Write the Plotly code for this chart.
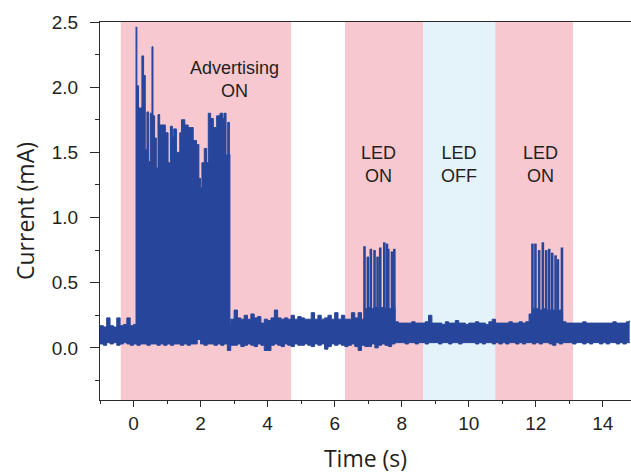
import numpy as np
import plotly.graph_objects as go

# ---- measurement data -------------------------------------------------------
# Baseline current band, sampled every 0.1 s from -1.0 s to 14.8 s:
# upper and lower edge of the noisy trace (mA).
base_t = np.round(np.arange(-1.0, 14.85, 0.1), 2)
base_hi = [
    0.17, 0.16, 0.23, 0.17, 0.16, 0.23, 0.17, 0.18, 0.23, 0.17,   # -1.0 .. -0.1
    0.18, 0.18, 0.18, 0.18, 0.18, 0.18, 0.18, 0.18, 0.18, 0.18,   # 0.0 .. 0.9
    0.18, 0.18, 0.18, 0.18, 0.18, 0.18, 0.18, 0.18, 0.18, 0.18,   # 1.0 .. 1.9
    0.18, 0.18, 0.18, 0.18, 0.18, 0.18, 0.18, 0.18, 0.18, 0.22,   # 2.0 .. 2.9
    0.29, 0.23, 0.22, 0.25, 0.22, 0.26, 0.23, 0.24, 0.19, 0.22,   # 3.0 .. 3.9
    0.21, 0.23, 0.29, 0.23, 0.22, 0.23, 0.22, 0.25, 0.22, 0.24,   # 4.0 .. 4.9
    0.23, 0.22, 0.22, 0.27, 0.22, 0.25, 0.22, 0.23, 0.25, 0.22,   # 5.0 .. 5.9
    0.27, 0.22, 0.25, 0.22, 0.22, 0.27, 0.23, 0.27, 0.22, 0.30,   # 6.0 .. 6.9
    0.31, 0.30, 0.31, 0.30, 0.31, 0.30, 0.30, 0.31, 0.20, 0.19,   # 7.0 .. 7.9
    0.19, 0.19, 0.19, 0.20, 0.19, 0.19, 0.19, 0.20, 0.25, 0.19,   # 8.0 .. 8.9
    0.19, 0.19, 0.18, 0.20, 0.19, 0.19, 0.21, 0.19, 0.19, 0.18,   # 9.0 .. 9.9
    0.19, 0.19, 0.20, 0.19, 0.19, 0.18, 0.20, 0.22, 0.19, 0.19,   # 10.0 .. 10.9
    0.19, 0.19, 0.20, 0.19, 0.19, 0.20, 0.19, 0.20, 0.26, 0.30,   # 11.0 .. 11.9
    0.30, 0.29, 0.30, 0.29, 0.29, 0.29, 0.28, 0.29, 0.20, 0.19,   # 12.0 .. 12.9
    0.19, 0.19, 0.19, 0.19, 0.20, 0.19, 0.19, 0.19, 0.19, 0.19,   # 13.0 .. 13.9
    0.19, 0.19, 0.19, 0.20, 0.19, 0.19, 0.19, 0.20, 0.21,         # 14.0 .. 14.8
]
base_lo = [
    0.03, 0.02, 0.04, 0.03, 0.04, 0.02, 0.03, 0.04, 0.03, 0.02,
    0.03, 0.02, 0.03, 0.03, 0.02, 0.03, 0.03, 0.02, 0.03, 0.02,
    0.03, 0.02, 0.03, 0.03, 0.02, 0.03, 0.02, 0.03, 0.03, 0.07,
    0.03, 0.02, 0.03, 0.03, 0.02, 0.03, 0.02, 0.03, -0.02, 0.02,
    0.02, 0.03, 0.01, 0.02, 0.03, 0.02, 0.01, 0.03, 0.02, -0.02,
    -0.02, 0.02, 0.03, 0.02, 0.01, 0.03, 0.02, 0.01, 0.03, 0.02,
    0.02, 0.03, 0.02, 0.01, 0.03, 0.02, 0.03, -0.01, 0.01, 0.03,
    0.02, 0.03, 0.02, 0.01, 0.02, 0.03, 0.01, -0.02, 0.02, 0.01,
    0.01, 0.03, 0.00, 0.02, 0.03, 0.02, 0.01, 0.03, 0.04, 0.04,
    0.04, 0.03, 0.04, 0.04, 0.03, 0.04, 0.04, 0.03, 0.04, 0.04,
    0.04, 0.03, 0.04, 0.04, 0.03, 0.04, 0.04, 0.03, 0.04, 0.04,
    0.04, 0.04, 0.03, 0.04, 0.03, 0.04, 0.04, 0.03, 0.04, 0.03,
    0.04, 0.03, 0.04, 0.04, 0.03, 0.04, 0.03, 0.04, 0.04, 0.03,
    0.04, 0.03, 0.04, 0.04, 0.03, 0.02, 0.04, 0.03, 0.04, 0.04,
    0.04, 0.03, 0.04, 0.04, 0.03, 0.04, 0.03, 0.04, 0.04, 0.03,
    0.04, 0.03, 0.04, 0.04, 0.03, 0.04, 0.03, 0.04, 0.04,
]

# Advertising burst: step envelope of the current peaks (s, mA)
adv_t = [0.06, 0.10, 0.15, 0.25, 0.30, 0.35, 0.40, 0.45, 0.50, 0.55,
         0.58, 0.63, 0.68, 0.73, 0.78, 0.88, 0.95, 1.03, 1.10, 1.16,
         1.20, 1.28, 1.38, 1.43, 1.48, 1.53, 1.63, 1.73, 1.78, 1.88,
         1.95, 2.00, 2.04, 2.11, 2.18, 2.23, 2.30, 2.38, 2.48, 2.58,
         2.66, 2.70, 2.76, 2.81, 2.86, 2.89]
adv_peak = [2.46, 2.01, 1.84, 2.24, 2.09, 1.52, 1.81, 1.43, 1.80, 2.31,
            1.78, 1.61, 1.38, 1.79, 1.71, 1.71, 1.65, 1.42, 1.70, 1.62,
            1.68, 1.50, 1.65, 1.75, 1.75, 1.71, 1.69, 1.69, 1.59, 1.56,
            1.30, 1.23, 1.42, 1.53, 1.42, 1.80, 1.76, 1.69, 1.78, 1.80,
            1.76, 1.80, 1.48, 1.73, 1.48, 1.48]
adv_floor = 0.06

# LED blinking pulses (s, mA)
led1_t = [6.89, 6.99, 7.08, 7.19, 7.28, 7.36, 7.48, 7.56, 7.60, 7.71, 7.78]
led1_peak = [0.78, 0.70, 0.76, 0.75, 0.70, 0.77, 0.81, 0.80, 0.76, 0.74, 0.76]
led2_t = [11.90, 11.99, 12.10, 12.21, 12.31, 12.40, 12.49, 12.59, 12.66, 12.78]
led2_peak = [0.80, 0.80, 0.75, 0.81, 0.75, 0.76, 0.73, 0.71, 0.68, 0.77]
pulse_floor = 0.10

# Experiment phases (s)
phase_start = [-0.38, 6.31, 8.64, 10.79]
phase_end = [4.70, 8.64, 10.79, 13.11]
phase_kind = ["on", "on", "off", "on"]

# Phase labels
label_text = ["Advertising<br>ON", "LED<br>ON", "LED<br>OFF", "LED<br>ON"]
label_x = [3.0, 7.30, 9.71, 12.13]
label_y = [2.06, 1.41, 1.41, 1.41]

# ---- styling ----------------------------------------------------------------
TRACE = "#27469b"
AXIS = "#2b2b2b"
PHASE_FILL = {"on": "#f7c8d0", "off": "#e3f3f9"}

fig = go.Figure()

# baseline band: lower edge, then upper edge filled down to it
fig.add_trace(go.Scatter(x=base_t, y=base_lo, mode="lines", line_shape="hv",
                         line=dict(color=TRACE, width=1), hoverinfo="skip"))
fig.add_trace(go.Scatter(x=base_t, y=base_hi, mode="lines", line_shape="hv",
                         fill="tonexty", fillcolor=TRACE,
                         line=dict(color=TRACE, width=1), hoverinfo="skip"))

# advertising burst: floor line, then stepped envelope filled to it
fig.add_trace(go.Scatter(x=[adv_t[0], adv_t[-1]], y=[adv_floor, adv_floor],
                         mode="lines", line=dict(color=TRACE, width=0),
                         hoverinfo="skip"))
fig.add_trace(go.Scatter(x=adv_t, y=adv_peak, mode="lines", line_shape="hv",
                         fill="tonexty", fillcolor=TRACE,
                         line=dict(color=TRACE, width=1), hoverinfo="skip"))

# LED pulses as thin vertical strokes
for ts, ps in ((led1_t, led1_peak), (led2_t, led2_peak)):
    px, py = [], []
    for t, p in zip(ts, ps):
        px += [t, t, None]
        py += [pulse_floor, p, None]
    fig.add_trace(go.Scatter(x=px, y=py, mode="lines",
                             line=dict(color=TRACE, width=2.6),
                             hoverinfo="skip"))

shapes = [dict(type="rect", xref="x", yref="paper", x0=s, x1=e, y0=0, y1=1,
               fillcolor=PHASE_FILL[k], line_width=0, layer="below")
          for s, e, k in zip(phase_start, phase_end, phase_kind)]

annotations = [dict(x=x, y=y, xref="x", yref="y", text=t, showarrow=False,
                    font=dict(family="Liberation Sans, Arial", size=18,
                              color="#231f20"), align="center")
               for t, x, y in zip(label_text, label_x, label_y)]

fig.update_layout(
    width=631, height=474,
    margin=dict(l=100, r=0, t=22, b=74),
    paper_bgcolor="white", plot_bgcolor="white",
    showlegend=False,
    shapes=shapes, annotations=annotations,
    font=dict(family="Liberation Sans, Arial", size=19, color="#231f20"),
)

fig.update_xaxes(
    range=[-1.0, 14.84], tick0=0, dtick=2, ticks="outside", ticklen=6,
    tickwidth=1.3, tickcolor=AXIS, showline=True, linecolor=AXIS,
    linewidth=1.3, mirror=True, showgrid=False, zeroline=False,
    minor=dict(ticks="outside", dtick=1, tick0=0, ticklen=3, tickwidth=1.3,
               tickcolor=AXIS),
    tickfont=dict(size=19),
    title=dict(text="Time (s)", standoff=18,
               font=dict(family="Open Sans", size=23, color="#231f20")),
)
fig.update_yaxes(
    range=[-0.4, 2.5], tick0=0, dtick=0.5, tickformat=".1f", ticks="outside",
    ticklen=9, tickwidth=1.3, tickcolor=AXIS, showline=True, linecolor=AXIS,
    linewidth=1.3, showgrid=False, zeroline=False, ticklabelstandoff=8,
    minor=dict(ticks="outside", dtick=0.25, tick0=0, ticklen=4, tickwidth=1.3,
               tickcolor=AXIS),
    tickfont=dict(size=19),
    title=dict(text="Current (mA)", standoff=10,
               font=dict(family="Open Sans", size=23, color="#231f20")),
)

fig.write_html("out.html")
